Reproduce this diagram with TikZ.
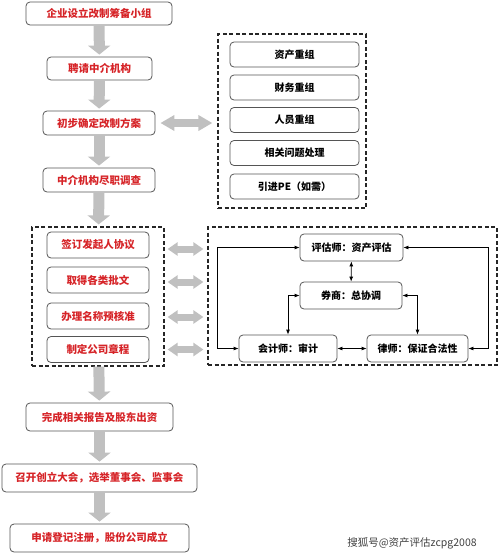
\documentclass[tikz,border=0pt]{standalone}
\usepackage{fontspec}
\setmainfont{Noto Sans CJK SC}
\usepackage{tikz}
\usetikzlibrary{positioning}
\usetikzlibrary{arrows.meta}
\definecolor{stepred}{RGB}{214,36,40}
\definecolor{arrowgray}{RGB}{192,192,192}
\definecolor{boxline}{RGB}{85,85,85}
\tikzstyle{stepbox} = [rectangle, rounded corners=4pt, draw=boxline, line width=0.8pt, text=stepred, font=\bfseries\fontsize{10.5}{12}\selectfont, inner sep=0pt]
\tikzstyle{itembox} = [rectangle, rounded corners=4pt, draw=boxline, line width=0.8pt, font=\bfseries\fontsize{10}{12}\selectfont, inner sep=0pt]
\tikzstyle{groupbox} = [rectangle, draw=black!85, line width=1.2pt, dash pattern=on 4pt off 2.5pt, inner sep=0pt]
\tikzstyle{flow} = [line width=11pt, arrowgray, -{Triangle[width=22pt,length=9pt]}]
\tikzstyle{biglink} = [line width=8pt, arrowgray, {Triangle[width=15pt,length=14pt]}-{Triangle[width=15pt,length=14pt]}]
\tikzstyle{smalllink} = [line width=7pt, arrowgray, {Triangle[width=13pt,length=10pt]}-{Triangle[width=13pt,length=10pt]}]
\tikzstyle{twoway} = [line width=0.8pt, {Latex[length=5pt,width=4pt]}-{Latex[length=5pt,width=4pt]}]

\begin{document}
\begin{tikzpicture}[x=1pt,y=-1pt]
\useasboundingbox (0,0) rectangle (500,555);
% main steps
\draw (99,13.5) node (s1) [stepbox, minimum width=146pt, minimum height=23pt] {企业设立改制筹备小组};
\draw (99.5,68.5) node (s2) [stepbox, minimum width=105pt, minimum height=23pt] {聘请中介机构};
\draw (99,123) node (s3) [stepbox, minimum width=112pt, minimum height=24pt] {初步确定改制方案};
\draw (99,180) node (s4) [stepbox, minimum width=112pt, minimum height=24pt] {中介机构尽职调查};
\draw (99.5,417) node (s5) [stepbox, minimum width=147pt, minimum height=28pt] {完成相关报告及股东出资};
\draw (99.5,478) node (s6) [stepbox, minimum width=195pt, minimum height=28pt] {召开创立大会，选举董事会、监事会};
\draw (99.5,538) node (s7) [stepbox, minimum width=179pt, minimum height=28pt] {申请登记注册，股份公司成立};
% restructuring items
\draw (292,121) node (rg) [groupbox, minimum width=148pt, minimum height=174pt] {};
\draw (294.5,54.5) node (r1) [itembox, minimum width=129pt, minimum height=25pt] {资产重组};
\draw (294.5,87.5) node (r2) [itembox, minimum width=129pt, minimum height=25pt] {财务重组};
\draw (294.5,120) node (r3) [itembox, minimum width=129pt, minimum height=25pt] {人员重组};
\draw (294.5,153) node (r4) [itembox, minimum width=129pt, minimum height=25pt] {相关问题处理};
\draw (294.5,186.5) node (r5) [itembox, minimum width=129pt, minimum height=25pt] {引进PE（如需）};
% procedures
\draw (98,296.5) node (pg) [groupbox, minimum width=132pt, minimum height=139pt] {};
\draw (98,245) node (p1) [stepbox, minimum width=102pt, minimum height=26pt] {签订发起人协议};
\draw (98,280) node (p2) [stepbox, minimum width=102pt, minimum height=26pt] {取得各类批文};
\draw (98,316) node (p3) [stepbox, minimum width=102pt, minimum height=26pt] {办理名称预核准};
\draw (98,349.5) node (p4) [stepbox, minimum width=102pt, minimum height=26pt] {制定公司章程};
% intermediaries
\draw (352.5,296) node (qg) [groupbox, minimum width=289pt, minimum height=138pt] {};
\draw (351.5,247.5) node (q1) [itembox, minimum width=103pt, minimum height=27pt] {评估师：资产评估};
\draw (351,295.5) node (q2) [itembox, minimum width=102pt, minimum height=27pt] {券商：总协调};
\draw (288,348.5) node (q3) [itembox, minimum width=98pt, minimum height=27pt] {会计师：审计};
\draw (417.5,348.5) node (q4) [itembox, minimum width=101pt, minimum height=27pt] {律师：保证合法性};
\coordinate (lx) at (217,0);
\coordinate (rx) at (488,0);
% gray arrows
\draw[flow, shorten >=2pt] (s1)--(s2);
\draw[flow, shorten >=2pt] (s2)--(s3);
\draw[flow, shorten >=2pt] (s3)--(s4);
\draw[flow, shorten >=2pt] (s4)--(pg);
\draw[flow, shorten >=2pt] (pg)--(s5);
\draw[flow, shorten >=2pt] (s5)--(s6);
\draw[flow, shorten >=2pt] (s6)--(s7);
\draw[biglink, shorten <=5pt, shorten >=5pt] (s3.east)--(s3.east -| rg.west);
\foreach \i/\dy in {1/-4,2/-2,3/-1,4/0}
  \draw[smalllink, shorten <=3pt, shorten >=4pt] ([yshift=\dy pt]p\i.east -| pg.east)--([yshift=\dy pt]p\i.east -| qg.west);
% black connectors
\draw[twoway] (q1)--(q2);
\draw[twoway] (q1.west)--(q1.west -| lx) |- (q3.west);
\draw[twoway] (q1.east)--(q1.east -| rx) |- (q4.east);
\draw[twoway] (q2.west) -| (q3.north);
\draw[twoway] (q2.east) -| (q4.north);
\draw[twoway] (q3)--(q4);
\node (mark) at (412,543) [text=black!75, font=\fontsize{10.5}{12}\selectfont] {搜狐号@资产评估zcpg2008};
\end{tikzpicture}
\end{document}
